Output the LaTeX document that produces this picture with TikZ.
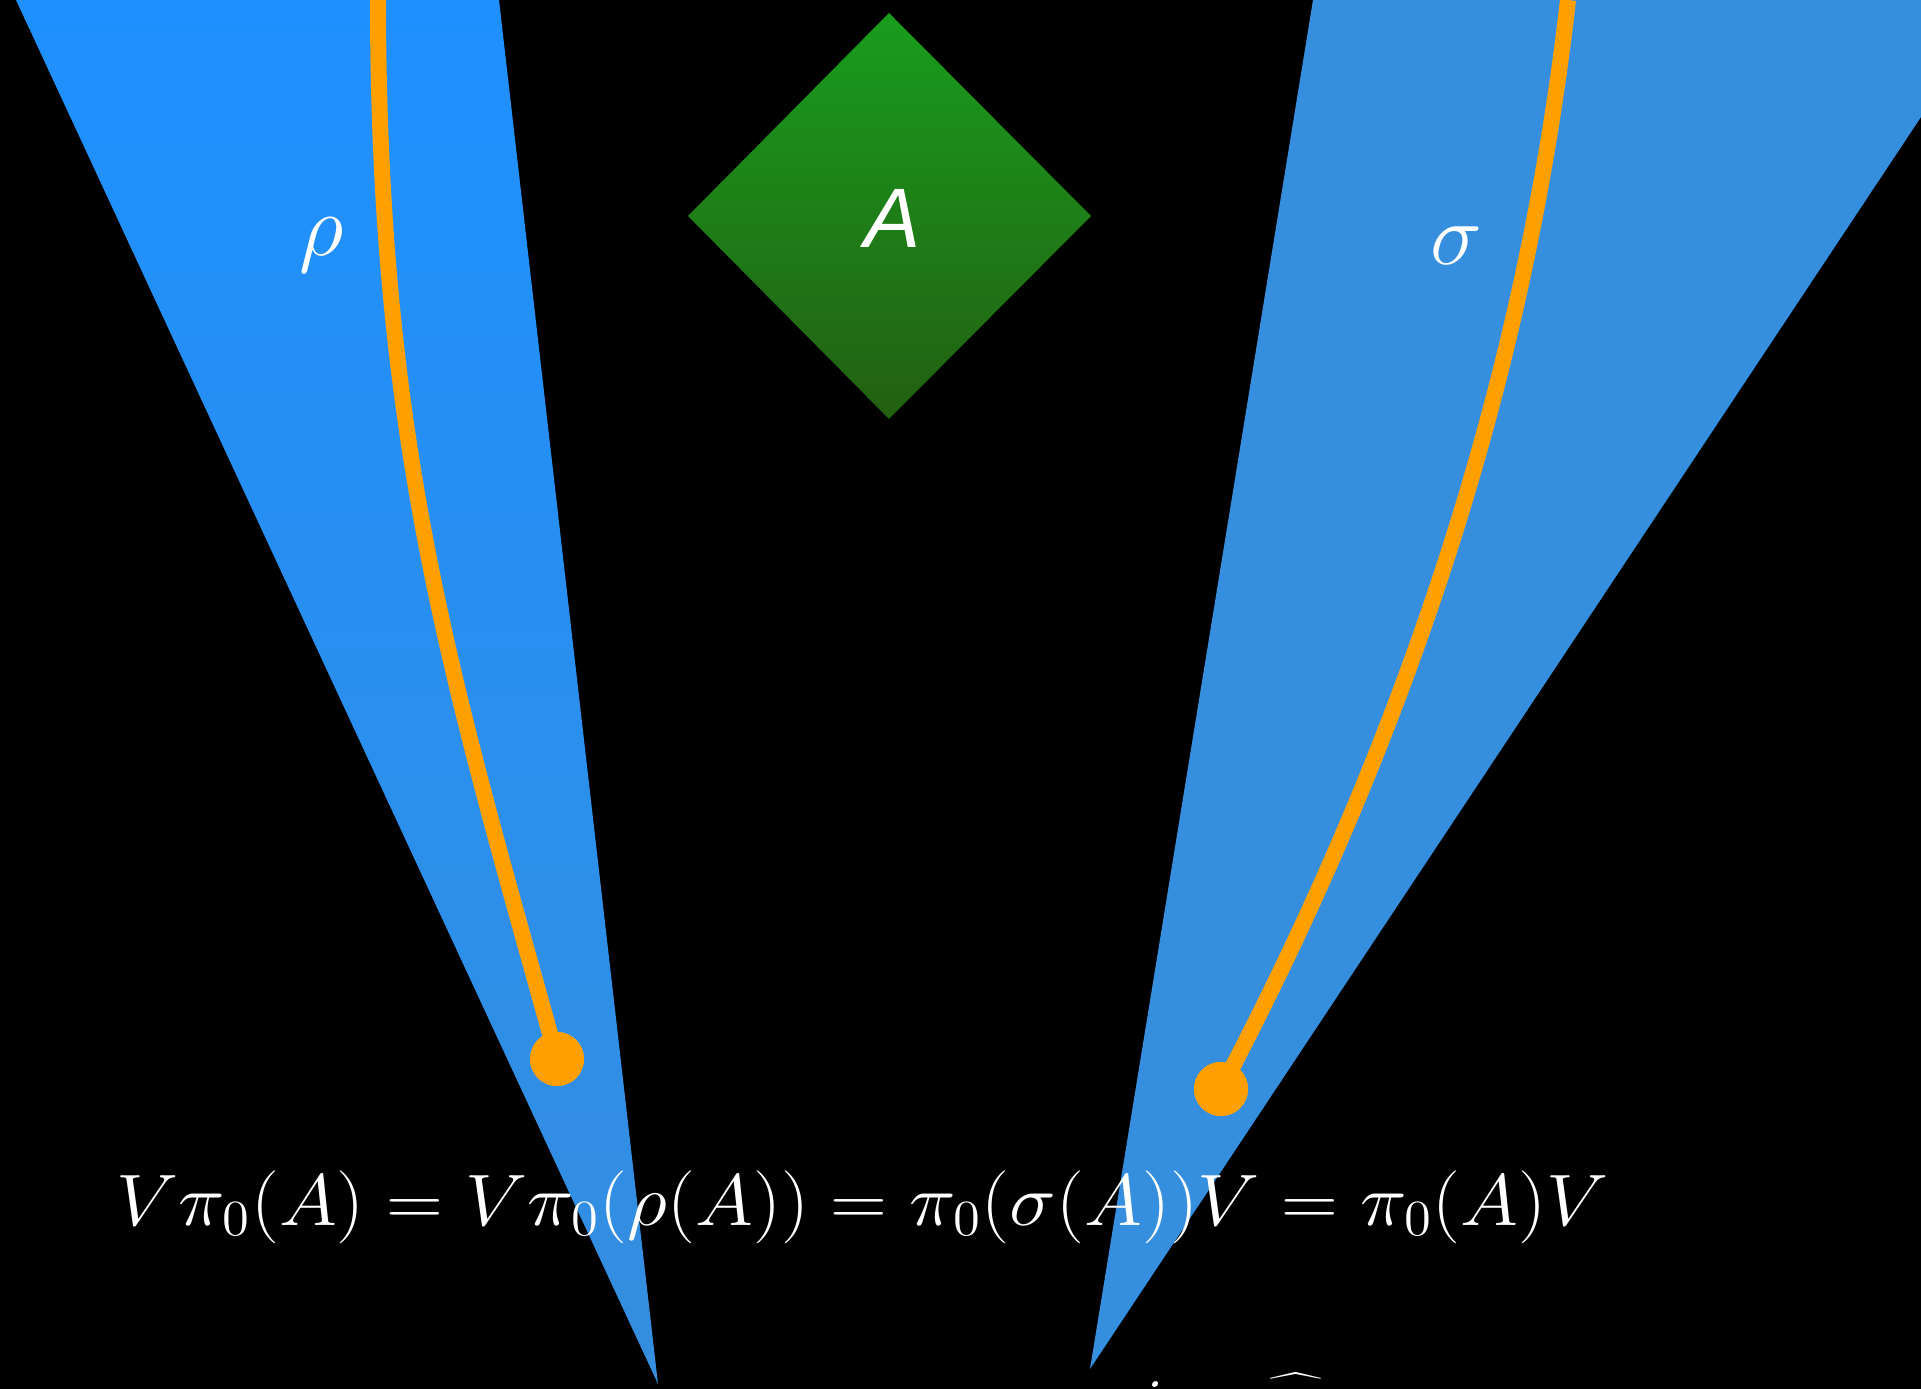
\documentclass[tikz,border=0pt]{standalone}
\usepackage{graphicx}
\usepackage{fontspec}
\newfontfamily\sansA{Liberation Sans}
\definecolor{wedgetop}{RGB}{30,144,255}
\definecolor{wedgebot}{RGB}{53,142,222}
\definecolor{curveorange}{RGB}{255,160,0}
\definecolor{diamtop}{RGB}{25,157,29}
\definecolor{diambot}{RGB}{35,95,18}
\tikzset{
  curveline/.style={draw=curveorange, line width=0.16cm},
  enddot/.style={circle, fill=curveorange, minimum size=0.54cm, inner sep=0pt},
  mathlabel/.style={text=white, font=\fontsize{23}{28}\selectfont, inner sep=0pt},
  eqtext/.style={text=white, font=\fontsize{22}{26}\selectfont, inner sep=0pt},
}
\begin{document}
\begin{tikzpicture}[x=0.01cm, y=-0.01cm]
\useasboundingbox[fill=black] (0,0) rectangle (1921,1389);
% left wedge (gradient)
\shade[top color=wedgetop, bottom color=wedgebot] (16,0) -- (499,0) -- (658,1384) -- cycle;
% right wedge
\fill[wedgebot] (1313,0) -- (1921,0) -- (1921,117) -- (1090,1369) -- cycle;
% diamond
\shade[top color=diamtop, bottom color=diambot] (889,13) -- (1091,216) -- (889,419) -- (688,216) -- cycle;
\node[text=white, font=\sansA\itshape\fontsize{24}{29}\selectfont, inner sep=0pt] (A) at (893,218) {A};
% labels
\node[mathlabel] (rho) at (322,245) {$\rho$};
\node[mathlabel] (sigma) at (1456,246) {$\sigma$};
% curves
\coordinate (ltop) at (378,0);
\coordinate (rtop) at (1568,0);
\node[enddot] (ldot) at (557,1059) {};
\node[enddot] (rdot) at (1221,1089) {};
\draw[curveline] (ltop) .. controls (378,450) and (455,690) .. (ldot.center);
\draw[curveline] (rtop) .. controls (1525,380) and (1405,740) .. (rdot.center);
\node[enddot] at (ldot) {};
\node[enddot] at (rdot) {};
% equation
\node[eqtext, anchor=base west] (eq) at (116,1225)
  {\scalebox{1.08}[1]{$V\pi_0(A) = V\pi_0(\rho(A)) = \pi_0(\sigma(A))V = \pi_0(A)V$}};
% clipped fragments at the bottom edge
\node[eqtext, anchor=north] (frag1) at (1151,1381) {$i$};
\node[eqtext, anchor=north] (frag2) at (1296,1372) {$\widehat{\phantom{H}}$};
\end{tikzpicture}
\end{document}
